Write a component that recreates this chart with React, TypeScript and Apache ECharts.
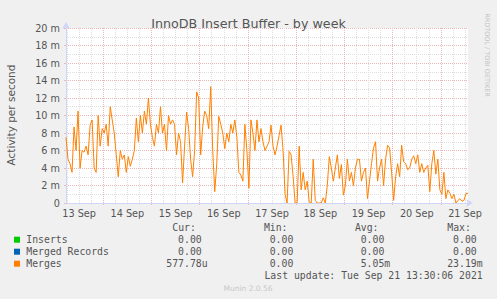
import React, { useEffect, useRef } from 'react';
import * as echarts from 'echarts';

const chartTitle = 'InnoDB Insert Buffer - by week';
const yAxisName = 'Activity per second';
const startTime = Date.UTC(2021, 8, 13, 5, 30);
const endTime = Date.UTC(2021, 8, 21, 13, 30);
const stepMs = 3600 * 1000;
const monthNames = ['Jan', 'Feb', 'Mar', 'Apr', 'May', 'Jun', 'Jul', 'Aug', 'Sep', 'Oct', 'Nov', 'Dec'];

// Merges (milli-activity per second), hourly samples from 13 Sep 05:30 UTC
const merges = [
  7.5, 5.0, 4.5, 3.5, 8.7, 6.0, 10.5, 4.0, 6.0, 5.8,
  6.5, 5.5, 8.9, 9.5, 4.0, 3.5, 10.0, 6.5, 8.5, 8.0,
  9.0, 6.5, 11.0, 9.5, 8.0, 5.5, 3.0, 6.0, 5.0, 5.5,
  3.5, 5.3, 4.2, 5.0, 6.0, 9.7, 7.0, 10.0, 8.0, 10.5,
  9.0, 12.0, 9.0, 7.5, 6.5, 9.0, 8.0, 11.0, 8.0, 9.0,
  6.0, 10.0, 9.0, 9.5, 9.0, 5.5, 8.0, 7.0, 2.3, 6.5,
  10.4, 8.5, 5.0, 3.0, 6.0, 12.7, 12.0, 5.5, 8.7, 10.5,
  10.0, 8.5, 13.3, 6.0, 1.3, 4.5, 9.9, 9.0, 8.0, 6.2,
  8.0, 7.0, 9.0, 8.0, 9.5, 7.5, 3.5, 3.2, 2.5, 9.0,
  6.0, 1.7, 9.5, 8.0, 6.0, 9.5, 7.0, 8.5, 7.0, 6.0,
  6.5, 7.0, 8.9, 6.5, 5.5, 6.5, 7.7, 8.9, 6.0, 1.0,
  0.0, 5.9, 5.5, 3.0, 0.0, 0.0, 6.5, 1.5, 3.5, 1.5,
  2.5, 0.1, 0.0, 5.0, 0.3, 0.0, 0.0, 0.0, 0.6, 0.0,
  2.0, 5.3, 4.0, 2.5, 4.0, 5.5, 2.8, 4.4, 0.9, 2.0,
  5.0, 2.5, 3.5, 2.0, 4.0, 5.0, 5.0, 2.5, 3.5, 4.0,
  0.5, 2.5, 4.5, 6.3, 7.0, 2.5, 4.0, 5.0, 2.0, 5.0,
  6.6, 6.3, 3.5, 0.3, 3.0, 4.5, 3.0, 6.6, 4.7, 4.5,
  3.8, 4.0, 5.0, 5.4, 4.5, 5.5, 3.5, 4.5, 3.5, 4.0,
  4.3, 1.3, 4.5, 6.0, 3.3, 5.0, 1.5, 1.0, 3.5, 0.5,
  1.5, 1.1, 0.5, 1.0, 0.0, 0.3, 0.5, 0.2, 0.3, 1.1,
  1.1,
];

const yMin = 0;
const yMax = 20;
const yStep = 2;

const legendNames = ['Inserts', 'Merged Records', 'Merges'];
const legendColors = ['#00CC00', '#0066B3', '#FF8000'];
const colHeaders = ['Cur:', 'Min:', 'Avg:', 'Max:'];
const curValues = ['0.00', '0.00', '577.78u'];
const minValues = ['0.00', '0.00', '0.00'];
const avgValues = ['0.00', '0.00', '5.05m'];
const maxValues = ['0.00', '0.00', '23.19m'];
const lastUpdate = 'Last update: Tue Sep 21 13:30:06 2021';
const footerText = 'Munin 2.0.56';
const sideText = 'RRDTOOL / TOBI OETIKER';

const AXIS_COLOR = '#CFD6F8';
const FONT_COLOR = '#555555';
const MINOR_GRID = '#DEDEDE';
const MAJOR_GRID = '#EDB6B6';

export default function App() {
  const ref = useRef<HTMLDivElement>(null);

  useEffect(() => {
    if (!ref.current) return;
    const chart = echarts.init(ref.current, undefined, { renderer: 'svg' });

    const categories: string[] = [];
    for (let t = startTime; t <= endTime; t += 30 * 60 * 1000) categories.push(String(t));
    const hourOf = (i: number) => new Date(Number(categories[i])).getUTCHours();
    const minOf = (i: number) => new Date(Number(categories[i])).getUTCMinutes();
    const isMidnight = (i: number) => minOf(i) === 0 && hourOf(i) === 0;
    const isNoon = (i: number) => minOf(i) === 0 && hourOf(i) === 12;
    const isSixMinor = (i: number) => minOf(i) === 0 && hourOf(i) % 6 === 0 && hourOf(i) !== 0;

    const mono = 'DejaVu Sans Mono';
    const legendFont = 9.8;
    const colRights = [201.7, 293.3, 384.3, 476.7];
    const headerY = 227.7;
    const rowYs = [239.7, 251.7, 263.7];
    const cols = [curValues, minValues, avgValues, maxValues];

    const graphics: any[] = [];
    const txt = (x: number, y: number, text: string, opts: any = {}) => ({
      type: 'text',
      x,
      y,
      rotation: opts.rotation || 0,
      silent: true,
      style: {
        text,
        fill: opts.fill || FONT_COLOR,
        fontFamily: opts.fontFamily || 'DejaVu Sans',
        fontSize: opts.fontSize || legendFont,
        align: opts.align || 'left',
        textAlign: opts.align || 'left',
        verticalAlign: 'middle',
        textVerticalAlign: 'middle',
      },
    });

    colHeaders.forEach((h, c) => {
      graphics.push(txt(colRights[c] - 29.4, headerY, h, { fontFamily: mono }));
    });
    legendNames.forEach((name, r) => {
      graphics.push({
        type: 'rect',
        silent: true,
        shape: { x: 14, y: rowYs[r] - 3, width: 6, height: 6 },
        style: { fill: legendColors[r] },
      });
      graphics.push(txt(26.3, rowYs[r], name, { fontFamily: mono }));
      cols.forEach((vals, c) => {
        const m = vals[r].match(/^([\d.]+)([a-zA-Z]?)$/);
        const num = m ? m[1] : vals[r];
        const unit = m ? m[2] : '';
        graphics.push(txt(colRights[c], rowYs[r], num, { fontFamily: mono, align: 'right' }));
        if (unit) graphics.push(txt(colRights[c], rowYs[r], unit, { fontFamily: mono }));
      });
    });
    graphics.push(txt(482.7, 275.7, lastUpdate, { fontFamily: mono, align: 'right' }));
    graphics.push(txt(248, 288, footerText, { fontSize: 7.5, fill: '#C8C8C8', align: 'center' }));
    graphics.push(txt(487, 55, sideText, { fontSize: 6.5, fill: '#C4C4C4', align: 'center', rotation: -Math.PI / 2 }));
    graphics.push(txt(11, 115, yAxisName, { fontSize: 10.5, fill: FONT_COLOR, align: 'center', rotation: Math.PI / 2 }));

    const labelStyle = { color: FONT_COLOR, fontFamily: 'DejaVu Sans', fontSize: 9.7 };

    chart.setOption({
      animation: false,
      backgroundColor: '#F0F0F0',
      title: {
        text: chartTitle,
        left: 'center',
        top: 12,
        textStyle: { fontFamily: 'DejaVu Sans', fontSize: 12.7, fontWeight: 'normal', color: FONT_COLOR },
      },
      grid: {
        left: 66,
        right: 29,
        top: 28,
        bottom: 96,
        show: true,
        backgroundColor: '#FFFFFF',
        borderWidth: 0,
        containLabel: false,
        outerBoundsMode: 'none',
      },
      xAxis: [
        {
          type: 'time',
          min: startTime,
          max: endTime,
          position: 'bottom',
          z: 5,
          axisLine: {
            show: true,
            lineStyle: { color: AXIS_COLOR, width: 1 },
            symbol: ['none', 'arrow'],
            symbolSize: [6, 7],
            symbolOffset: [0, 5],
          },
          axisTick: { show: false },
          axisLabel: { show: false },
          splitLine: { show: false },
        },
        {
          type: 'category',
          data: categories,
          boundaryGap: false,
          position: 'bottom',
          axisLine: { show: false },
          axisTick: { show: false },
          axisLabel: {
            ...labelStyle,
            interval: (i: number) => isNoon(i),
            margin: 5,
            formatter: (v: string) => {
              const d = new Date(Number(v));
              return d.getUTCDate() + ' ' + monthNames[d.getUTCMonth()];
            },
          },
          splitLine: {
            show: true,
            interval: (i: number) => isSixMinor(i),
            lineStyle: { color: MINOR_GRID, type: [1, 1], width: 1 },
          },
        },
        {
          type: 'category',
          data: categories,
          boundaryGap: false,
          position: 'bottom',
          axisLine: { show: false },
          axisTick: {
            show: true,
            interval: (i: number) => isMidnight(i),
            length: 2,
            lineStyle: { color: MAJOR_GRID },
          },
          axisLabel: { show: false, interval: (i: number) => isMidnight(i) },
          splitLine: {
            show: true,
            interval: (i: number) => isMidnight(i),
            lineStyle: { color: MAJOR_GRID, type: [1, 1], width: 1 },
          },
        },
      ],
      yAxis: {
        type: 'value',
        min: yMin,
        max: yMax,
        interval: yStep,
        axisLine: {
          show: true,
          lineStyle: { color: AXIS_COLOR, width: 1 },
          symbol: ['none', 'arrow'],
          symbolSize: [6, 7],
          symbolOffset: [0, 6],
        },
        axisTick: { show: true, length: 2, lineStyle: { color: MAJOR_GRID } },
        axisLabel: {
          ...labelStyle,
          margin: 6,
          formatter: (v: number) => (v === 0 ? '0' : v + ' m'),
        },
        splitLine: { show: true, lineStyle: { color: MAJOR_GRID, type: [1, 1], width: 1 } },
        minorTick: { show: false, splitNumber: 2 },
        minorSplitLine: { show: true, lineStyle: { color: MINOR_GRID, type: [1, 1], width: 1 } },
      },
      series: [
        {
          name: 'Merges',
          type: 'line',
          xAxisIndex: 0,
          yAxisIndex: 0,
          showSymbol: false,
          symbol: 'none',
          lineStyle: { color: '#FF8000', width: 1 },
          itemStyle: { color: '#FF8000' },
          data: merges.map((v, i) => [startTime + i * stepMs, v]),
          z: 3,
        },
      ],
      graphic: graphics,
    });

    return () => chart.dispose();
  }, []);

  return <div ref={ref} style={{ position: 'absolute', left: 0, top: 0, width: 497, height: 299 }} />;
}
